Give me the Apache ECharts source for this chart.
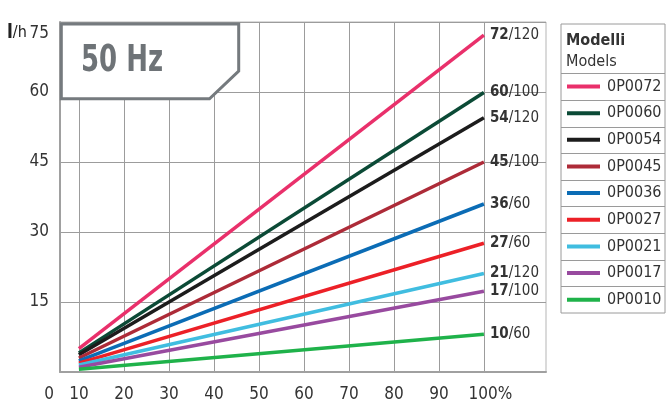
<!DOCTYPE html>
<html><head><meta charset="utf-8">
<script src="https://cdn.jsdelivr.net/npm/echarts@6/dist/echarts.min.js"></script>
<style>html,body{margin:0;padding:0;background:#fff}#c{width:668px;height:405px}</style>
</head><body><div id="c"></div>
<script>
// ---- data ----
const strokePct = [10, 100];
const models = ['0P0072','0P0060','0P0054','0P0045','0P0036','0P0027','0P0021','0P0017','0P0010'];
const flowAt10 = [5.0, 4.1, 3.7, 3.0, 2.4, 1.9, 1.5, 1.0, 0.6];
const flowAt100 = [72.2, 59.9, 54.5, 45.0, 36.0, 27.6, 21.1, 17.3, 8.1];
const ratedFlow = [72, 60, 54, 45, 36, 27, 21, 17, 10];
const ratedPressure = [120, 100, 120, 100, 60, 60, 120, 100, 60];
const colors = ['#e9306b','#0b4a36','#1c1c1c','#ad2b38','#0b6cb5','#ec2027','#40bde0','#984a9f','#1fb24a'];
const xTickValues = [10, 20, 30, 40, 50, 60, 70, 80, 90, 100];
const xMin = 5.8, xMax = 113.8;
const yMin = 0, yMax = 75, yStep = 15;

const FONT = "'Liberation Sans Narrow','DejaVu Sans Condensed','Roboto Condensed',Roboto,sans-serif";
const TXT = '#333';

const series = models.map((m, i) => ({
  name: m,
  type: 'line',
  data: strokePct.map((x, k) => [x, k === 0 ? flowAt10[i] : flowAt100[i]]),
  showSymbol: false,
  symbol: 'none',
  lineStyle: { color: colors[i], width: 3.5 },
  itemStyle: { color: colors[i] },
  z: 3,
  endLabel: {
    show: true,
    distance: 6,
    formatter: () => '{b|' + ratedFlow[i] + '}/' + ratedPressure[i],
    color: TXT,
    fontFamily: FONT,
    fontSize: 15,
    rich: { b: { fontWeight: 'bold', fontFamily: FONT, fontSize: 15, color: TXT } }
  }
}));

// legend frame and row separators
const legTop = 73.3, rowH = 26.63, legLeft = 561, legW = 104;
const graphics = [
  { type: 'rect', shape: { x: legLeft, y: 24, width: legW, height: 289 }, style: { fill: '#fff', stroke: '#9a9a9a', lineWidth: 1 }, z: 0 },
  { type: 'text', x: 566, y: 41, style: { text: 'Modelli', font: "bold 16px " + FONT, fill: TXT, textVerticalAlign: 'middle' } },
  { type: 'text', x: 566, y: 62, style: { text: 'Models', font: "16px " + FONT, fill: TXT, textVerticalAlign: 'middle' } },
  { type: 'text', x: 7, y: 33, style: { text: '{b|l}/h', font: "16px " + FONT, fill: '#222', textVerticalAlign: 'middle',
      rich: { b: { fontWeight: 'bold', fontSize: 19, fontFamily: FONT, fill: '#222' } } } }
];
for (let i = 0; i < models.length; i++) {
  const y = Math.round(legTop + i * rowH) + 0.5;
  graphics.push({ type: 'line', shape: { x1: legLeft, y1: y, x2: legLeft + legW, y2: y }, style: { stroke: '#9a9a9a', lineWidth: 1 }, z: 1 });
}
// title box
graphics.push({ type: 'polygon', shape: { points: [[61.3, 24], [238.7, 24], [238.7, 71], [209.5, 98.8], [61.3, 98.8]] }, style: { fill: '#fff', stroke: '#757a7e', lineWidth: 3 }, z: 10 });
graphics.push({ type: 'text', x: 122, y: 61, scaleX: 0.76, style: { text: '50 Hz', font: "bold 38px " + FONT, fill: '#6e7377', textAlign: 'center', textVerticalAlign: 'middle' }, z: 11 });

const chart = echarts.init(document.getElementById('c'), null, { renderer: 'canvas' });
chart.setOption({
  animation: false,
  backgroundColor: '#fff',
  textStyle: { fontFamily: FONT },
  grid: { left: 60, right: 122, top: 22, bottom: 33, show: true, borderColor: '#b5b5b5', borderWidth: 1, backgroundColor: '#fff', containLabel: false },
  xAxis: {
    type: 'value', min: xMin, max: xMax,
    axisLine: { show: true, lineStyle: { color: '#a0a0a0', width: 2 } },
    axisTick: { show: false, customValues: xTickValues },
    splitLine: { show: true, lineStyle: { color: '#9c9c9c', width: 1 } },
    axisLabel: {
      customValues: [xMin].concat(xTickValues),
      color: TXT, fontSize: 17, fontFamily: FONT, margin: 14,
      formatter: v => v === xMin ? '{z|0}' : (v === 100 ? '{h|100%}' : String(v)),
      rich: {
        z: { padding: [0, 22, 0, 0], fontSize: 17, fontFamily: FONT, color: TXT },
        h: { padding: [0, 0, 0, 13], fontSize: 17, fontFamily: FONT, color: TXT }
      }
    }
  },
  yAxis: {
    type: 'value', min: yMin, max: yMax, interval: yStep,
    axisLine: { show: true, lineStyle: { color: '#a0a0a0', width: 2 } },
    axisTick: { show: false },
    splitLine: { show: true, lineStyle: { color: '#9c9c9c', width: 1 } },
    axisLabel: {
      color: TXT, fontSize: 17, fontFamily: FONT, margin: 11, showMinLabel: false,
      formatter: v => v === yMin ? '' : (v === yMax ? '{t|' + v + '}' : String(v)),
      rich: { t: { padding: [24, 0, 0, 0], fontSize: 17, fontFamily: FONT, color: TXT } }
    }
  },
  legend: {
    orient: 'vertical', left: 567, top: 78.6, padding: 0,
    itemWidth: 33, itemHeight: 4, itemGap: 10.63, icon: 'rect',
    textStyle: { color: TXT, fontSize: 16, fontFamily: FONT, lineHeight: 16, padding: [0, 0, 0, 2] },
    data: models
  },
  graphic: graphics,
  series: series
});
</script></body></html>
